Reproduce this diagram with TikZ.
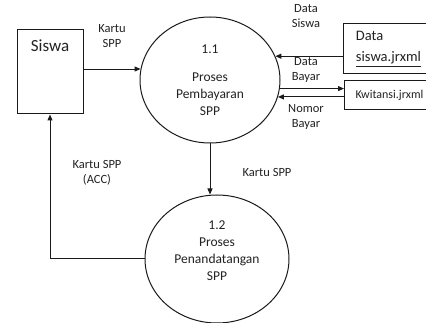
\documentclass[tikz,border=0pt]{standalone}
\usepackage{fontspec}
\setmainfont{Carlito}
\usetikzlibrary{arrows.meta,calc,positioning,shapes.geometric}
\definecolor{lineC}{HTML}{1A1A1A}
\definecolor{textC}{HTML}{222222}
\tikzset{
  ent/.style={draw=lineC, line width=1pt, text=textC, inner sep=0pt},
  proc/.style={ellipse, draw=lineC, line width=1pt, text=textC, align=center, inner sep=0pt,
               font=\fontsize{13.5}{17}\selectfont},
  store/.style={draw=lineC, line width=1pt, text=textC, align=left, anchor=west,
                font=\fontsize{14.5}{21}\selectfont},
  arr/.style={-{Triangle[length=6pt,width=5pt]}, draw=lineC, line width=1pt},
  lab/.style={text=textC, align=center, font=\fontsize{12.5}{15}\selectfont, inner sep=0pt},
}
\begin{document}
\begin{tikzpicture}[x=1pt,y=-1pt]
\useasboundingbox (0,0) rectangle (426,323);
\node[ent, minimum width=66pt, minimum height=84pt,
      label={[anchor=north, yshift=-7pt, text=textC, font=\fontsize{17}{20}\selectfont]north:Siswa}] (siswa) at (50,72) {};
\node[proc, minimum width=140pt, minimum height=126pt] (p1) at (210,80) {1.1\\[11pt]Proses\\Pembayaran\\SPP};
\node[proc, minimum width=144pt, minimum height=128pt, text depth=17pt] (p2) at (217,259) {1.2\\Proses\\Penandatangan\\SPP};
\node[store, minimum width=90pt, minimum height=50pt, inner xsep=10pt] (dsiswa) at (343,49) {Data\\\underline{siswa.jrxml}};
\node[store, minimum width=90pt, minimum height=29pt, inner xsep=9pt, font=\fontsize{12}{15}\selectfont] (kwit) at (344,95.5) {Kwitansi.jrxml};
% flows
\draw[arr] (siswa.east |- p1.171) -- (p1.171);
\draw[arr] (dsiswa.west |- p1.20) -- (p1.20);
\draw[arr] (p1.353) -- (kwit.west |- p1.353);
\draw[arr] (kwit.west |- p1.346) -- (p1.346);
\draw[arr] (p1.south) -- (p1.south |- p2.north);
\draw[arr] (p2.west) -| (siswa.south);
% flow labels
\node[lab] (lkartu) at (112,36) {Kartu\\SPP};
\node[lab] (ldsiswa) at (306,16) {Data\\Siswa};
\node[lab] (lbayar) at (306,70) {Data\\Bayar};
\node[lab] (lnomor) at (306,117) {Nomor\\Bayar};
\node[lab] (lkartu2) at (267,172) {Kartu SPP};
\node[lab] (lacc) at (97,173) {Kartu SPP\\(ACC)};
\end{tikzpicture}
\end{document}
